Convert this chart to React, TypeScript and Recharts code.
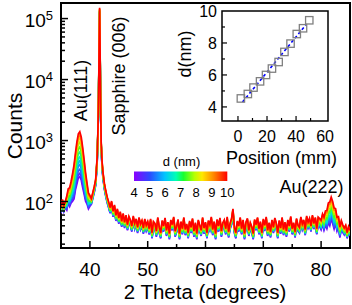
import React from 'react'
import { LineChart, ComposedChart, Line, Scatter, XAxis, YAxis, ReferenceArea } from 'recharts'

// film thickness of each sample, nm (also the inset y values)
const thicknessNm = [4.53, 4.81, 5.21, 5.6, 6.0, 6.4, 6.81, 7.44, 7.96, 8.56, 8.92, 9.42]
const positionMm = [2, 6.8, 10.7, 15.2, 19.3, 23.4, 28, 32, 36.2, 40.5, 44.8, 49.1]
const fitPosition = [3.1, 47.1]
const fitThickness = [4.31, 9.17]

const seriesColors = [
  '#7a00ff', '#5a22ff', '#3355ff', '#1a86ff', '#00b6f2', '#00e2d2',
  '#1ff088', '#4cff10', '#b4f000', '#ffcf00', '#ff7d00', '#ff0000',
]

// 2 theta grid, degrees
const twoTheta = [
  35, 35.25, 35.5, 35.75, 36, 36.25, 36.5, 36.75, 37, 37.25, 37.5, 37.75, 38, 38.25, 38.5, 38.75,
  39, 39.25, 39.5, 39.75, 40, 40.25, 40.5, 40.75, 41, 41.25,
  41.4, 41.5, 41.6, 41.68, 41.76, 41.85, 41.95, 42.1,
  42.25, 42.5, 42.75, 43, 43.25, 43.5, 43.75, 44, 44.25, 44.5, 44.75, 45, 45.25, 45.5, 45.75, 46,
  46.25, 46.5, 46.75, 47, 47.25, 47.5, 47.75, 48, 48.25, 48.5, 48.75, 49, 49.25, 49.5, 49.75, 50,
  50.25, 50.5, 50.75, 51, 51.25, 51.5, 51.75, 52, 52.25, 52.5, 52.75, 53, 53.25, 53.5, 53.75, 54,
  54.25, 54.5, 54.75, 55, 55.25, 55.5, 55.75, 56, 56.25, 56.5, 56.75, 57, 57.25, 57.5, 57.75, 58,
  58.25, 58.5, 58.75, 59, 59.25, 59.5, 59.75, 60, 60.25, 60.5, 60.75, 61, 61.25, 61.5, 61.75, 62,
  62.25, 62.5, 62.75, 63, 63.25, 63.5, 63.75, 64, 64.25, 64.5, 64.75, 65, 65.25, 65.5, 65.75, 66,
  66.25, 66.5, 66.75, 67, 67.25, 67.5, 67.75, 68, 68.25, 68.5, 68.75, 69, 69.25, 69.5, 69.75, 70,
  70.25, 70.5, 70.75, 71, 71.25, 71.5, 71.75, 72, 72.25, 72.5, 72.75, 73, 73.25, 73.5, 73.75, 74,
  74.25, 74.5, 74.75, 75, 75.25, 75.5, 75.75, 76, 76.25, 76.5, 76.75, 77, 77.25, 77.5, 77.75, 78,
  78.25, 78.5, 78.75, 79, 79.25, 79.5, 79.75, 80, 80.25, 80.5, 80.75, 81, 81.25, 81.5, 81.75, 82,
  82.25, 82.5, 82.75, 83, 83.25, 83.5, 83.75, 84, 84.25, 84.5, 84.75, 85,
]

// substrate + background counts (thickest film), same grid as twoTheta
const background = [
  80, 108, 86, 100, 84, 110, 90, 98, 92, 84, 104, 94, 98, 96, 102, 94,
  98, 90, 96, 86, 100, 112, 140, 175, 230, 520,
  1600, 5500, 35000, 150000, 32000, 4200, 950, 460,
  310, 200, 150, 118, 98, 80, 102, 70, 88, 60, 76, 54, 68, 48, 64, 46,
  60, 42, 57, 50, 40, 58, 44, 52, 38, 55, 43, 49, 37, 52, 41, 47,
  36, 52, 31, 47, 44, 33, 55, 38, 31, 49, 40, 54, 34, 46, 30, 50,
  42, 56, 33, 39, 51, 30, 47, 36, 55, 35, 43, 31, 48, 38, 53, 33,
  45, 30, 50, 41, 34, 55, 37, 46, 31, 49, 42, 56, 35, 47, 30, 51,
  40, 54, 33, 45, 50, 36, 56, 32, 44, 52, 76, 38, 31, 48, 40, 55,
  36, 50, 30, 46, 53, 34, 45, 39, 30, 51, 42, 55, 36, 47, 31, 52,
  41, 56, 34, 45, 32, 50, 38, 54, 44, 31, 49, 37, 55, 35, 46, 33,
  50, 40, 57, 36, 45, 32, 53, 41, 38, 56, 43, 50, 35, 58, 46, 53,
  40, 60, 44, 55, 36, 52, 47, 41, 50, 38, 45, 36, 44, 34, 48, 39,
  33, 47, 36, 44, 30, 43, 38, 35, 41, 31, 39, 34,
]
// per-sample background level relative to the thickest film
const backgroundLevel = [0.8, 0.85, 0.82, 0.87, 0.89, 0.85, 0.91, 0.88, 0.93, 0.95, 0.97, 1]

// Au(111) peak
const au111Angles = [36, 36.25, 36.5, 36.75, 37, 37.25, 37.5, 37.75, 38, 38.25, 38.5, 38.75, 39, 39.25, 39.5, 39.75, 40]
const au111Profile = [0.03, 0.04, 0.06, 0.09, 0.15, 0.24, 0.4, 0.66, 0.92, 1, 0.8, 0.52, 0.3, 0.16, 0.08, 0.04, 0.02]
const au111Height = [180, 210, 260, 320, 380, 460, 560, 700, 850, 1000, 1150, 1300]

// Au(222) peak
const au222Angles = [79.5, 79.75, 80, 80.25, 80.5, 80.75, 81, 81.25, 81.5, 81.75, 82, 82.25, 82.5, 82.75, 83, 83.25, 83.5, 83.75, 84]
const au222Profile = [0.05, 0.08, 0.12, 0.18, 0.25, 0.36, 0.5, 0.72, 0.92, 1, 0.88, 0.65, 0.42, 0.28, 0.18, 0.12, 0.08, 0.05, 0.03]
const au222Height = [14, 16, 19, 22, 26, 30, 35, 41, 48, 55, 62, 70]

const X_TICKS = [40, 45, 50, 55, 60, 65, 70, 75, 80]
const Y_TICKS = [
  20, 30, 40, 50, 60, 70, 80, 90, 100, 200, 300, 400, 500, 600, 700, 800, 900,
  1000, 2000, 3000, 4000, 5000, 6000, 7000, 8000, 9000,
  10000, 20000, 30000, 40000, 50000, 60000, 70000, 80000, 90000, 100000,
]
const INSET_X_TICKS = [0, 10, 20, 30, 40, 50, 60]
const INSET_Y_TICKS = [4, 5, 6, 7, 8, 9, 10]
const BAR_LABELS = ['4', '5', '6', '7', '8', '9', '10']
const BAR_STOPS = [
  { at: 0, c: '#8a00ff' },
  { at: 0.17, c: '#2b4bff' },
  { at: 0.33, c: '#00c4ff' },
  { at: 0.45, c: '#00ffb4' },
  { at: 0.53, c: '#18ff30' },
  { at: 0.65, c: '#b8ff00' },
  { at: 0.73, c: '#ffe800' },
  { at: 0.85, c: '#ff8a00' },
  { at: 1, c: '#ff0000' },
]

const FONT = '"Liberation Sans", Arial, sans-serif'

const rows = twoTheta.map((t, i) => {
  const row: Record<string, number> = { t }
  const k1 = au111Angles.indexOf(t)
  const k2 = au222Angles.indexOf(t)
  thicknessNm.forEach((_, s) => {
    let v = background[i] * backgroundLevel[s]
    if (k1 >= 0) v += au111Height[s] * au111Profile[k1]
    if (k2 >= 0) v += au222Height[s] * au222Profile[k2]
    row[`s${s}`] = v
  })
  return row
})

const insetPoints = positionMm.map((pos, i) => ({ pos, d: thicknessNm[i] }))
const fitPoints = fitPosition.map((pos, i) => ({ pos, d: fitThickness[i] }))

function MainXTick({ x, y, payload }: any) {
  const major = payload.value % 10 === 0
  return (
    <g>
      <line x1={x} x2={x} y1={y} y2={y - (major ? 7 : 4)} stroke="#000" strokeWidth={1.5} />
      {major && (
        <text x={x} y={y + 27.5} textAnchor="middle" fontSize={19} fontFamily={FONT} fill="#000">
          {payload.value}
        </text>
      )}
    </g>
  )
}

function MainYTick({ x, y, payload }: any) {
  const e = Math.log10(payload.value)
  const major = Math.abs(e - Math.round(e)) < 1e-6
  return (
    <g>
      <line x1={x} x2={x + (major ? 7 : 4)} y1={y} y2={y} stroke="#000" strokeWidth={1.5} />
      {major && (
        <text x={x - 8} y={y + 8} textAnchor="end" fontSize={19} fontFamily={FONT} fill="#000">
          <tspan>10</tspan>
          <tspan dy={-7} fontSize={13}>{Math.round(e)}</tspan>
        </text>
      )}
    </g>
  )
}

function InsetXTick({ x, y, payload }: any) {
  const major = payload.value % 20 === 0
  return (
    <g>
      {payload.value < 60 && (
        <line x1={x} x2={x} y1={y} y2={y - (major ? 5 : 3)} stroke="#000" strokeWidth={1.2} />
      )}
      {major && (
        <text x={x} y={y + 21} textAnchor="middle" fontSize={16} fontFamily={FONT} fill="#000">
          {payload.value}
        </text>
      )}
    </g>
  )
}

function InsetYTick({ x, y, payload }: any) {
  const major = payload.value % 2 === 0
  return (
    <g>
      {payload.value < 10 && (
        <line x1={x} x2={x + (major ? 5 : 3)} y1={y} y2={y} stroke="#000" strokeWidth={1.2} />
      )}
      {major && (
        <text x={x - 5} y={y + 6} textAnchor="end" fontSize={16} fontFamily={FONT} fill="#000">
          {payload.value}
        </text>
      )}
    </g>
  )
}

const SquareMark = (props: any) => (
  <rect x={props.cx - 3.7} y={props.cy - 3.7} width={7.4} height={7.4} fill="none" stroke="#808080" strokeWidth={1.3} />
)

function Rotated({ cx, cy, size, children }: { cx: number; cy: number; size: number; children: string }) {
  return (
    <text
      transform={`translate(${cx},${cy}) rotate(-90)`}
      textAnchor="middle"
      dominantBaseline="central"
      fontSize={size}
      fontFamily={FONT}
      fill="#000"
    >
      {children}
    </text>
  )
}

export default function App() {
  return (
    <div style={{ position: 'relative', width: 352, height: 305, background: '#fff', fontFamily: FONT }}>
      <style>{'body{margin:0}'}</style>
      <LineChart width={352} height={305} data={rows} margin={{ top: 3, right: 2, bottom: 0, left: 0 }}>
        <XAxis
          dataKey="t"
          type="number"
          domain={[35, 85]}
          ticks={X_TICKS}
          interval={0}
          allowDataOverflow
          height={57}
          axisLine={false}
          tickLine={false}
          tickSize={0}
          tickMargin={0}
          tick={(p: any) => <MainXTick {...p} />}
        />
        <YAxis
          type="number"
          scale="log"
          domain={[17.3, 180000]}
          ticks={Y_TICKS}
          interval={0}
          allowDataOverflow
          width={61}
          axisLine={false}
          tickLine={false}
          tickSize={0}
          tickMargin={0}
          tick={(p: any) => <MainYTick {...p} />}
        />
        {thicknessNm.map((d, s) => (
          <Line
            key={d}
            dataKey={`s${s}`}
            type="linear"
            stroke={seriesColors[s]}
            strokeWidth={1.7}
            dot={false}
            isAnimationActive={false}
          />
        ))}
        <ReferenceArea x1={35} x2={85} y1={17.3} y2={180000} fill="none" stroke="#000" strokeWidth={2} ifOverflow="visible" />
      </LineChart>

      <div style={{ position: 'absolute', left: 170, top: 0 }}>
        <ComposedChart width={182} height={170} margin={{ top: 11, right: 24, bottom: 0, left: 0 }}>
          <XAxis
            dataKey="pos"
            type="number"
            domain={[-11, 62]}
            ticks={INSET_X_TICKS}
            interval={0}
            allowDataOverflow
            height={49}
            axisLine={false}
            tickLine={false}
            tickSize={0}
            tickMargin={0}
            tick={(p: any) => <InsetXTick {...p} />}
          />
          <YAxis
            type="number"
            domain={[3.12, 10]}
            ticks={INSET_Y_TICKS}
            interval={0}
            allowDataOverflow
            width={52}
            axisLine={false}
            tickLine={false}
            tickSize={0}
            tickMargin={0}
            tick={(p: any) => <InsetYTick {...p} />}
          />
          <Scatter data={insetPoints} dataKey="d" shape={SquareMark} isAnimationActive={false} />
          <Line
            data={fitPoints}
            dataKey="d"
            type="linear"
            stroke="#0000ff"
            strokeWidth={1.6}
            strokeDasharray="3 2.5"
            dot={false}
            isAnimationActive={false}
          />
          <ReferenceArea x1={-11} x2={62} y1={3.12} y2={10} fill="none" stroke="#000" strokeWidth={1.5} ifOverflow="visible" />
        </ComposedChart>
      </div>

      <svg width={352} height={305} style={{ position: 'absolute', left: 0, top: 0, pointerEvents: 'none' }}>
        <defs>
          <linearGradient id="dbar" x1="0" x2="1" y1="0" y2="0">
            {BAR_STOPS.map((s) => (
              <stop key={s.at} offset={s.at} stopColor={s.c} />
            ))}
          </linearGradient>
        </defs>
        <Rotated cx={14} cy={126} size={21}>Counts</Rotated>
        <text x={205} y={298.5} textAnchor="middle" fontSize={20.5} fontFamily={FONT} fill="#000">
          2 Theta (degrees)
        </text>
        <Rotated cx={80.5} cy={90.5} size={18}>Au(111)</Rotated>
        <Rotated cx={118.5} cy={76} size={18}>Sapphire (006)</Rotated>
        <text x={311.5} y={193} textAnchor="middle" fontSize={18} fontFamily={FONT} fill="#000">
          Au(222)
        </text>
        <Rotated cx={185} cy={54} size={18}>d(nm)</Rotated>
        <text x={281.5} y={164} textAnchor="middle" fontSize={18} fontFamily={FONT} fill="#000">
          Position (mm)
        </text>
        <text x={181.5} y={166} textAnchor="middle" fontSize={13} fontFamily={FONT} fill="#000">
          d (nm)
        </text>
        <rect x={134} y={171.5} width={93.3} height={9.5} fill="url(#dbar)" />
        {BAR_LABELS.map((lab, i) => (
          <text key={lab} x={134 + (i * 93.3) / 6} y={197} textAnchor="middle" fontSize={13} fontFamily={FONT} fill="#000">
            {lab}
          </text>
        ))}
      </svg>
    </div>
  )
}
